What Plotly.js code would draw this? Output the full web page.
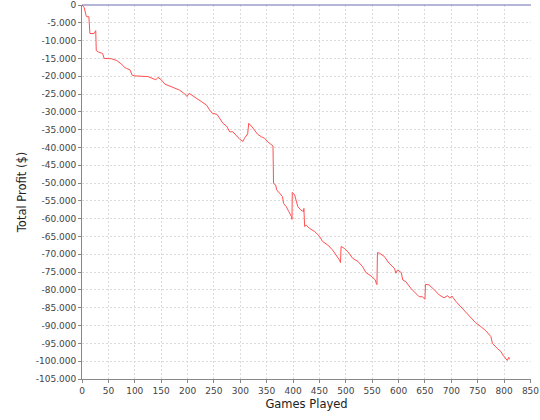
<!DOCTYPE html>
<html>
<head>
<meta charset="utf-8">
<script src="https://cdn.plot.ly/plotly-3.0.1.min.js"></script>
<style>html,body{margin:0;padding:0;background:#fff;}#chart{width:540px;height:420px;}</style>
</head>
<body>
<div id="chart"></div>
<script>
const gamesPlayed = [0,4,8,9,13,15,23,26,27,31,39,42,56,66,75,79,84,91,95,100,125,135,140,144,151,157,166,176,185,195,199,203,210,220,
229,236,242,247,256,261,267,274,280,286,293,299,305,308,314,316,321,327,333,340,346,352,359,362,
363,367,369,374,380,382,387,392,397,398,398.5,403,409,415,420,420.5,422,425,431,441,450,456,466,475,482,488,490,491,497,504,513,523,532,538,548,556,558,559,
560,564,573,582,592,595,598,605,608,614,623,633,639,645,650,651,658,668,677,686,693,697,701,709,718,728,737,746,756,765,775,
778,787,794,798,803,806,808,809,810];
const totalProfit = [0,-650,-3100,-3300,-3300,-8000,-8000,-7200,-12800,-13200,-13600,-15000,-15100,-15600,-16600,-17300,-17800,-18200,-19700,-19900,-20100,-20700,-21000,-20300,-21100,-22200,-22700,-23400,-23900,-25000,-25700,-24800,-25500,-26400,
-27300,-28100,-29500,-30400,-30700,-31800,-33200,-34000,-35600,-35600,-36800,-37700,-38300,-37400,-36200,-33200,-34000,-35100,-36300,-37000,-37400,-38400,-39300,-39600,
-50100,-50500,-51900,-52900,-53800,-55700,-56600,-58000,-59400,-60200,-52600,-53300,-56600,-57600,-58000,-57100,-62200,-61800,-62700,-63600,-64900,-66400,-67400,-68800,-70200,-71600,-72300,-67800,-68300,-69300,-71100,-72000,-73500,-75100,-76100,-77200,-78300,-78500,
-69500,-69700,-70600,-72500,-73900,-75300,-74400,-75100,-77200,-77700,-79500,-80900,-81900,-81900,-82600,-78400,-78600,-80000,-81400,-82200,-81600,-82300,-81700,-83300,-84700,-86100,-87700,-89200,-90300,-91400,-93100,
-95000,-96400,-97300,-98300,-99200,-99800,-99200,-98900,-99500];
const yTickValues = [];
for (let v = -105000; v <= 0; v += 5000) yTickValues.push(v);
const xTickValues = [0,50,100,150,200,250,300,350,400,450,500,550,600,650,700,750,800,850];

function fmt(v){
  const s = Math.abs(v).toString().replace(/\B(?=(\d{3})+(?!\d))/g, '.');
  return (v < 0 ? '-' : '') + s;
}
const yTickText = yTickValues.map(fmt);

const font = {family: 'DejaVu Sans', size: 9, color: '#444444'};
const data = [{
  x: gamesPlayed, y: totalProfit, type: 'scatter', mode: 'lines',
  line: {color: '#ff5050', width: 1}, hoverinfo: 'skip'
}];
const axisCommon = {
  showline: true, linecolor: '#888888', linewidth: 1,
  ticks: 'outside', ticklen: 3, tickcolor: '#888888',
  showgrid: true, gridcolor: '#dcdcdc', griddash: '2px,2px', gridwidth: 1,
  zeroline: false, tickfont: font, mirror: false
};
const layout = {
  width: 540, height: 420,
  margin: {l: 82, r: 9, t: 5, b: 41},
  paper_bgcolor: '#ffffff', plot_bgcolor: '#ffffff',
  showlegend: false,
  xaxis: Object.assign({}, axisCommon, {
    range: [0, 851], tickvals: xTickValues, ticktext: xTickValues.map(String),
    title: {text: 'Games Played', font: {family: 'DejaVu Sans', size: 11.5, color: '#222222'}, standoff: 5}
  }),
  yaxis: Object.assign({}, axisCommon, {
    range: [-105000, 0], tickvals: yTickValues, ticktext: yTickText,
    title: {text: 'Total Profit ($)', font: {family: 'DejaVu Sans', size: 11.5, color: '#222222'}, standoff: 6}
  }),
  shapes: [{type: 'line', xref: 'paper', x0: 0, x1: 1, yref: 'paper', y0: 1, y1: 1, layer: 'above',
            line: {color: '#6c6cb0', width: 1}}]
};
Plotly.newPlot('chart', data, layout, {staticPlot: true, displayModeBar: false});
</script>
</body>
</html>
